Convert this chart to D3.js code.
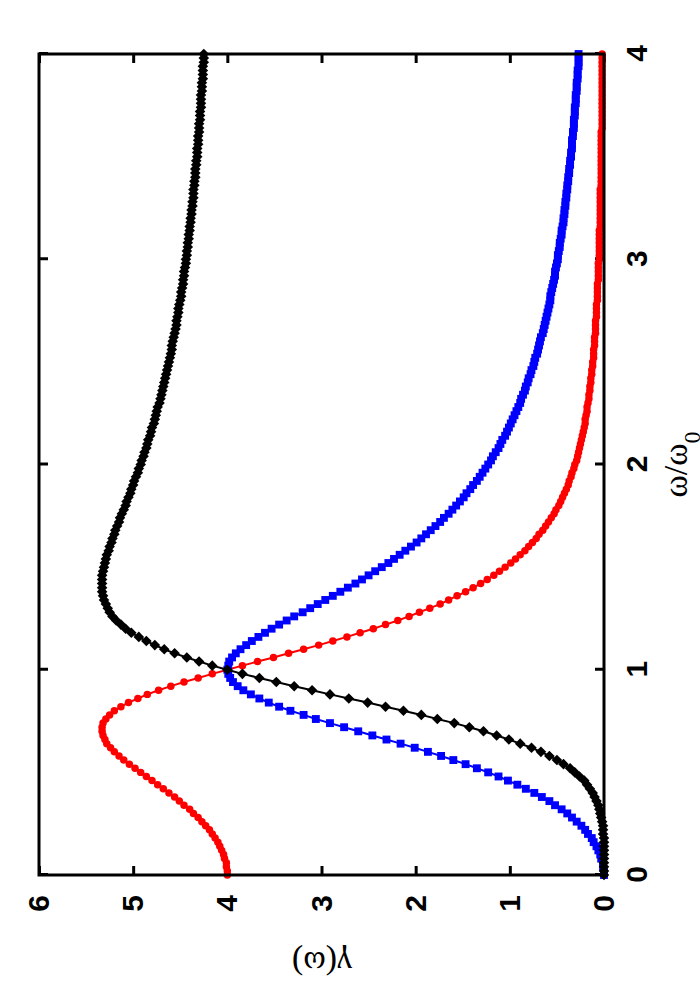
<!DOCTYPE html>
<html>
<head>
<meta charset="utf-8">
<script src="https://cdn.jsdelivr.net/npm/d3@7/dist/d3.min.js"></script>
<style>
  body { margin: 0; background: #fff; }
  .tick text { font-family: "Liberation Sans", Arial, sans-serif; font-weight: bold; font-size: 30px; fill: #000; }
  .axis-label { font-family: "Liberation Serif", "DejaVu Serif", serif; font-size: 34px; fill: #000; }
</style>
</head>
<body>
<svg id="chart"></svg>
<script>
// omega / omega_0 sample points
const omega = [
  0, 0.02, 0.04, 0.06, 0.08, 0.1, 0.12, 0.14, 0.16, 0.18,
  0.2, 0.22, 0.24, 0.26, 0.28, 0.3, 0.32, 0.34, 0.36, 0.38,
  0.4, 0.42, 0.44, 0.46, 0.48, 0.5, 0.52, 0.54, 0.56, 0.58,
  0.6, 0.62, 0.64, 0.66, 0.68, 0.7, 0.72, 0.74, 0.76, 0.78,
  0.8, 0.82, 0.84, 0.86, 0.88, 0.9, 0.92, 0.94, 0.96, 0.98,
  1, 1.02, 1.04, 1.06, 1.08, 1.1, 1.12, 1.14, 1.16, 1.18,
  1.2, 1.22, 1.24, 1.26, 1.28, 1.3, 1.32, 1.34, 1.36, 1.38,
  1.4, 1.42, 1.44, 1.46, 1.48, 1.5, 1.52, 1.54, 1.56, 1.58,
  1.6, 1.62, 1.64, 1.66, 1.68, 1.7, 1.72, 1.74, 1.76, 1.78,
  1.8, 1.82, 1.84, 1.86, 1.88, 1.9, 1.92, 1.94, 1.96, 1.98,
  2, 2.02, 2.04, 2.06, 2.08, 2.1, 2.12, 2.14, 2.16, 2.18,
  2.2, 2.22, 2.24, 2.26, 2.28, 2.3, 2.32, 2.34, 2.36, 2.38,
  2.4, 2.42, 2.44, 2.46, 2.48, 2.5, 2.52, 2.54, 2.56, 2.58,
  2.6, 2.62, 2.64, 2.66, 2.68, 2.7, 2.72, 2.74, 2.76, 2.78,
  2.8, 2.82, 2.84, 2.86, 2.88, 2.9, 2.92, 2.94, 2.96, 2.98,
  3, 3.02, 3.04, 3.06, 3.08, 3.1, 3.12, 3.14, 3.16, 3.18,
  3.2, 3.22, 3.24, 3.26, 3.28, 3.3, 3.32, 3.34, 3.36, 3.38,
  3.4, 3.42, 3.44, 3.46, 3.48, 3.5, 3.52, 3.54, 3.56, 3.58,
  3.6, 3.62, 3.64, 3.66, 3.68, 3.7, 3.72, 3.74, 3.76, 3.78,
  3.8, 3.82, 3.84, 3.86, 3.88, 3.9, 3.92, 3.94, 3.96, 3.98,
  4
];

// red curve (circles)
const gammaRed = [
  4.00, 4.00, 4.01, 4.01, 4.03, 4.04, 4.06, 4.08, 4.10, 4.13,
  4.16, 4.19, 4.23, 4.27, 4.31, 4.36, 4.40, 4.46, 4.51, 4.56,
  4.62, 4.68, 4.74, 4.80, 4.86, 4.92, 4.98, 5.04, 5.10, 5.15,
  5.20, 5.24, 5.28, 5.30, 5.32, 5.33, 5.33, 5.32, 5.29, 5.25,
  5.20, 5.13, 5.05, 4.95, 4.85, 4.73, 4.60, 4.46, 4.31, 4.16,
  4.00, 3.84, 3.68, 3.51, 3.35, 3.19, 3.03, 2.88, 2.73, 2.59,
  2.45, 2.32, 2.19, 2.07, 1.96, 1.85, 1.74, 1.65, 1.56, 1.47,
  1.39, 1.31, 1.24, 1.17, 1.11, 1.05, 0.99, 0.94, 0.89, 0.84,
  0.80, 0.76, 0.72, 0.69, 0.65, 0.62, 0.59, 0.56, 0.53, 0.51,
  0.48, 0.46, 0.44, 0.42, 0.40, 0.38, 0.37, 0.35, 0.34, 0.32,
  0.31, 0.29, 0.28, 0.27, 0.26, 0.25, 0.24, 0.23, 0.22, 0.21,
  0.20, 0.20, 0.19, 0.18, 0.18, 0.17, 0.16, 0.16, 0.15, 0.15,
  0.14, 0.14, 0.13, 0.13, 0.12, 0.12, 0.11, 0.11, 0.11, 0.10,
  0.10, 0.10, 0.09, 0.09, 0.09, 0.09, 0.08, 0.08, 0.08, 0.08,
  0.07, 0.07, 0.07, 0.07, 0.07, 0.06, 0.06, 0.06, 0.06, 0.06,
  0.05, 0.05, 0.05, 0.05, 0.05, 0.05, 0.05, 0.05, 0.04, 0.04,
  0.04, 0.04, 0.04, 0.04, 0.04, 0.04, 0.04, 0.04, 0.03, 0.03,
  0.03, 0.03, 0.03, 0.03, 0.03, 0.03, 0.03, 0.03, 0.03, 0.03,
  0.03, 0.03, 0.02, 0.02, 0.02, 0.02, 0.02, 0.02, 0.02, 0.02,
  0.02, 0.02, 0.02, 0.02, 0.02, 0.02, 0.02, 0.02, 0.02, 0.02,
  0.02
];

// blue curve (squares)
const gammaBlue = [
  0.00, 0.00, 0.01, 0.01, 0.03, 0.04, 0.06, 0.08, 0.11, 0.13,
  0.17, 0.20, 0.24, 0.29, 0.34, 0.39, 0.45, 0.52, 0.58, 0.66,
  0.74, 0.83, 0.92, 1.02, 1.12, 1.23, 1.35, 1.47, 1.60, 1.73,
  1.87, 2.01, 2.16, 2.31, 2.46, 2.61, 2.76, 2.91, 3.06, 3.19,
  3.33, 3.45, 3.56, 3.66, 3.75, 3.83, 3.89, 3.94, 3.97, 3.99,
  4.00, 3.99, 3.98, 3.95, 3.91, 3.86, 3.80, 3.74, 3.67, 3.60,
  3.53, 3.45, 3.37, 3.29, 3.20, 3.12, 3.04, 2.96, 2.88, 2.80,
  2.72, 2.64, 2.57, 2.50, 2.43, 2.36, 2.29, 2.23, 2.17, 2.11,
  2.05, 1.99, 1.94, 1.89, 1.84, 1.79, 1.74, 1.70, 1.65, 1.61,
  1.57, 1.53, 1.49, 1.46, 1.42, 1.39, 1.35, 1.32, 1.29, 1.26,
  1.23, 1.20, 1.18, 1.15, 1.12, 1.10, 1.08, 1.05, 1.03, 1.01,
  0.99, 0.97, 0.95, 0.93, 0.91, 0.89, 0.88, 0.86, 0.84, 0.83,
  0.81, 0.80, 0.78, 0.77, 0.75, 0.74, 0.73, 0.71, 0.70, 0.69,
  0.68, 0.67, 0.65, 0.64, 0.63, 0.62, 0.61, 0.60, 0.59, 0.58,
  0.57, 0.57, 0.56, 0.55, 0.54, 0.53, 0.52, 0.52, 0.51, 0.50,
  0.49, 0.49, 0.48, 0.47, 0.47, 0.46, 0.45, 0.45, 0.44, 0.43,
  0.43, 0.42, 0.42, 0.41, 0.41, 0.40, 0.40, 0.39, 0.39, 0.38,
  0.38, 0.37, 0.37, 0.36, 0.36, 0.35, 0.35, 0.34, 0.34, 0.34,
  0.33, 0.33, 0.32, 0.32, 0.32, 0.31, 0.31, 0.31, 0.30, 0.30,
  0.30, 0.29, 0.29, 0.29, 0.28, 0.28, 0.28, 0.27, 0.27, 0.27,
  0.27
];

// black curve (diamonds)
const gammaBlack = [
  0.00, 0.00, 0.00, 0.00, 0.00, 0.00, 0.00, 0.00, 0.00, 0.00,
  0.01, 0.01, 0.01, 0.02, 0.03, 0.04, 0.05, 0.06, 0.08, 0.10,
  0.12, 0.15, 0.18, 0.21, 0.26, 0.31, 0.36, 0.43, 0.50, 0.58,
  0.67, 0.77, 0.89, 1.01, 1.14, 1.28, 1.43, 1.59, 1.77, 1.94,
  2.13, 2.32, 2.51, 2.71, 2.91, 3.10, 3.29, 3.48, 3.66, 3.84,
  4.00, 4.16, 4.30, 4.43, 4.56, 4.67, 4.77, 4.86, 4.94, 5.02,
  5.08, 5.13, 5.18, 5.22, 5.25, 5.27, 5.29, 5.31, 5.32, 5.33,
  5.33, 5.33, 5.33, 5.33, 5.32, 5.31, 5.30, 5.29, 5.28, 5.26,
  5.25, 5.23, 5.22, 5.20, 5.19, 5.17, 5.15, 5.14, 5.12, 5.10,
  5.08, 5.07, 5.05, 5.03, 5.02, 5.00, 4.99, 4.97, 4.95, 4.94,
  4.92, 4.91, 4.89, 4.88, 4.86, 4.85, 4.84, 4.82, 4.81, 4.80,
  4.78, 4.77, 4.76, 4.75, 4.74, 4.72, 4.71, 4.70, 4.69, 4.68,
  4.67, 4.66, 4.65, 4.64, 4.63, 4.62, 4.61, 4.60, 4.59, 4.59,
  4.58, 4.57, 4.56, 4.55, 4.54, 4.54, 4.53, 4.52, 4.52, 4.51,
  4.50, 4.49, 4.49, 4.48, 4.47, 4.47, 4.46, 4.46, 4.45, 4.44,
  4.44, 4.43, 4.43, 4.42, 4.42, 4.41, 4.41, 4.40, 4.40, 4.39,
  4.39, 4.38, 4.38, 4.37, 4.37, 4.36, 4.36, 4.36, 4.35, 4.35,
  4.34, 4.34, 4.34, 4.33, 4.33, 4.32, 4.32, 4.32, 4.31, 4.31,
  4.31, 4.30, 4.30, 4.30, 4.29, 4.29, 4.29, 4.28, 4.28, 4.28,
  4.28, 4.27, 4.27, 4.27, 4.26, 4.26, 4.26, 4.26, 4.25, 4.25,
  4.25
];

const omegaTicks = [0, 1, 2, 3, 4];
const gammaTicks = [0, 1, 2, 3, 4, 5, 6];

// page size and where the plot frame sits (the whole plot is turned by 90 degrees)
const width = 700;
const height = 1000;
const frame = { left: 39, bottom: 875 };
const lenOmega = 821;  // along the omega axis (page vertical)
const lenGamma = 565;  // along the gamma axis (page horizontal)

const svg = d3.select('#chart')
  .attr('width', width)
  .attr('height', height);

svg.append('rect')
  .attr('width', width)
  .attr('height', height)
  .attr('fill', '#fff');

// draw a normal chart inside a group, then rotate the group
const g = svg.append('g')
  .attr('transform', `translate(${frame.left},${frame.bottom}) rotate(-90)`);

const xScale = d3.scaleLinear().domain([0, 4]).range([0, lenOmega]);
const yScale = d3.scaleLinear().domain([0, 6]).range([lenGamma, 0]);
const fmt = d3.format('d');

// axes with inward ticks, mirrored on the opposite side
g.append('g')
  .attr('transform', `translate(0,${lenGamma})`)
  .call(d3.axisBottom(xScale).tickValues(omegaTicks).tickFormat(fmt).tickSizeInner(-9).tickSizeOuter(0).tickPadding(22));
g.append('g')
  .call(d3.axisTop(xScale).tickValues(omegaTicks).tickSizeInner(-9).tickSizeOuter(0).tickFormat(''));
g.append('g')
  .call(d3.axisLeft(yScale).tickValues(gammaTicks).tickFormat(fmt).tickSizeInner(-9).tickSizeOuter(0).tickPadding(20));
g.append('g')
  .attr('transform', `translate(${lenOmega},0)`)
  .call(d3.axisRight(yScale).tickValues(gammaTicks).tickSizeInner(-9).tickSizeOuter(0).tickFormat(''));

g.selectAll('.domain').remove();
g.selectAll('.tick line').attr('stroke', '#000').attr('stroke-width', 3);

// series: line plus markers
const series = [
  { values: gammaRed, color: '#ff0000', symbol: d3.symbolCircle, size: 44, rotate: 0 },
  { values: gammaBlue, color: '#0000ff', symbol: d3.symbolSquare, size: 62, rotate: 0 },
  { values: gammaBlack, color: '#000000', symbol: d3.symbolSquare, size: 56, rotate: 45 }
];

const line = d3.line()
  .x((d, i) => xScale(omega[i]))
  .y(d => yScale(d));

series.forEach(s => {
  g.append('path')
    .datum(s.values)
    .attr('fill', 'none')
    .attr('stroke', s.color)
    .attr('stroke-width', 2)
    .attr('d', line);

  g.append('g')
    .selectAll('path')
    .data(s.values)
    .enter()
    .append('path')
    .attr('d', d3.symbol().type(s.symbol).size(s.size))
    .attr('transform', (d, i) => `translate(${xScale(omega[i])},${yScale(d)}) rotate(${s.rotate})`)
    .attr('fill', s.color);
});

// frame
g.append('rect')
  .attr('width', lenOmega)
  .attr('height', lenGamma)
  .attr('fill', 'none')
  .attr('stroke', '#000')
  .attr('stroke-width', 3);

// axis labels
g.append('text')
  .attr('class', 'axis-label')
  .attr('transform', `translate(-87,283) rotate(-90)`)
  .attr('text-anchor', 'middle')
  .attr('dy', '0.3em')
  .text('γ(ω)');

const xLabel = g.append('text')
  .attr('class', 'axis-label')
  .attr('x', lenOmega / 2)
  .attr('y', 648)
  .attr('text-anchor', 'middle');
xLabel.append('tspan').text('ω/ω');
xLabel.append('tspan').attr('baseline-shift', 'sub').attr('font-size', '24px').text('0');
</script>
</body>
</html>
